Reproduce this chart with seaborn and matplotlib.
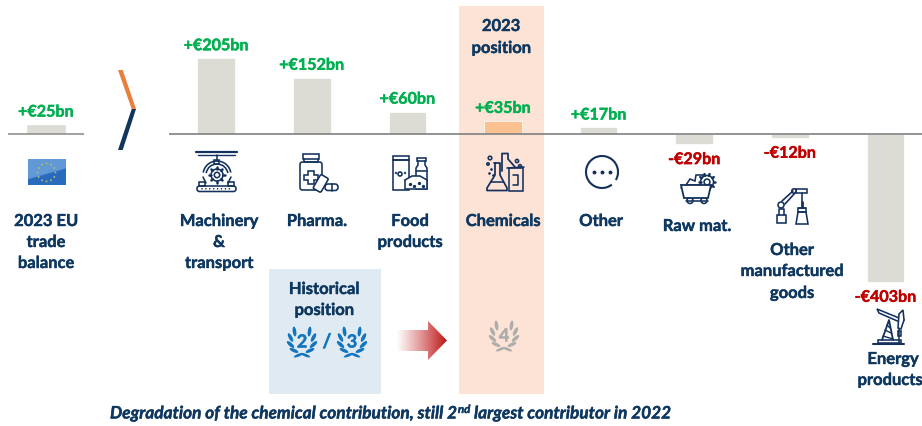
import numpy as np
import pandas as pd
import matplotlib
matplotlib.use("Agg")
import matplotlib.pyplot as plt
import matplotlib.patheffects as pe
import seaborn as sns
from matplotlib.patches import Polygon, Rectangle, Circle, Ellipse, FancyBboxPatch, Arc

# ---------- data ----------
categories = ["Machinery", "Pharma.", "Food", "Chemicals", "Other",
              "Raw mat.", "Other manufactured", "Energy"]
balance_bn = [205, 152, 60, 35, 17, -29, -12, -403]
eu_label = ["2023 EU trade balance"]
eu_balance_bn = [25]

# ---------- style ----------
W, H = 922, 427
NAVY = "#0F3860"
ICON = "#13315C"
GREEN = "#00B050"
RED = "#C00000"
GREY = "#DCDCD5"
FONT = "Lato"
FS = 11.9
HEAVY = lambda c: [pe.withStroke(linewidth=0.3, foreground=c)]

sns.set_theme(style="white")
plt.rcParams["font.family"] = [FONT, "DejaVu Sans"]
fig = plt.figure(figsize=(W / 100, H / 100), dpi=100, facecolor="white")


def px_axes(x0, x1, y0=0, y1=H, z=1):
    a = fig.add_axes([x0 / W, 1 - y1 / H, (x1 - x0) / W, (y1 - y0) / H], zorder=z)
    a.patch.set_alpha(0)
    return a


bg = px_axes(0, W, z=0)
bg.set_xlim(0, W)
bg.set_ylim(H, 0)
bg.axis("off")

# ---------- background bands ----------
bg.add_patch(Rectangle((459, 7), 85, 388, fc="#FDE3D6", ec="none"))
bg.add_patch(Rectangle((269, 270), 112, 125, fc="#DFEAF2", ec="none"))

# ---------- bars ----------
PX_PER_BN = 75.5 / 205
BASE = 134.6
ylim_top, ylim_bot = BASE / PX_PER_BN, -(H - BASE) / PX_PER_BN
STEP = 95.6
X0 = 216.2


def value_label(ax, x, v):
    txt = f"+€{v}bn" if v > 0 else f"-€{abs(v)}bn"
    off = 11.8 if v > 0 else -15.8
    col = GREEN if v > 0 else RED
    ax.annotate(txt, (x, v), xytext=(0, off * 0.72), textcoords="offset points",
                ha="center", va="center", fontsize=11.6, fontweight="bold",
                color=col, annotation_clip=False, path_effects=HEAVY(col))


ax = px_axes(169, W)
df = pd.DataFrame({"cat": categories, "val": balance_bn})
palette = {c: ("#FBC08F" if c == "Chemicals" else GREY) for c in categories}
sns.barplot(data=df, x="cat", y="val", hue="cat", palette=palette, legend=False,
            width=37.5 / STEP, ax=ax, saturation=1, edgecolor="white", linewidth=0.5)
ax.set_xlim(-(X0 - 169) / STEP, (W - X0) / STEP)
ax.set_ylim(ylim_bot, ylim_top)
ax.axhline(0, color="#808080", lw=1.2, zorder=5)
ax.axis("off")
for i, v in enumerate(balance_bn):
    value_label(ax, i, v)

ax0 = px_axes(8, 84)
df0 = pd.DataFrame({"cat": eu_label, "val": eu_balance_bn})
sns.barplot(data=df0, x="cat", y="val", color=GREY, width=40 / 76, ax=ax0, saturation=1)
ax0.set_xlim(-0.5, 0.5)
ax0.set_ylim(ylim_bot, ylim_top)
ax0.axhline(0, color="#909090", lw=1.2, zorder=5)
ax0.axis("off")
value_label(ax0, 0, eu_balance_bn[0])


# ---------- text ----------
def t(x, y, s, **kw):
    col = kw.pop("color", NAVY)
    kw.setdefault("fontsize", FS)
    kw.setdefault("fontweight", "bold")
    return bg.text(x, y + 2, s, color=col, ha=kw.pop("ha", "center"), va=kw.pop("va", "center"),
                   clip_on=False, path_effects=HEAVY(col), **kw)


label_layout = [
    (46, 220, "2023 EU"), (46, 241, "trade"), (46, 262, "balance"),
    (219, 220, "Machinery"), (219, 241, "&"), (219, 262, "transport"),
    (317, 220, "Pharma."), (410, 220, "Food"), (410, 241, "products"),
    (503, 220, "Chemicals"), (601, 220, "Other"), (697, 225, "Raw mat."),
    (792, 249, "Other"), (792, 270, "manufactured"), (792, 292, "goods"),
    (893, 358, "Energy"), (890, 379, "products"),
    (501, 25, "2023"), (501, 47, "position"),
    (324, 288, "Historical"), (324, 309, "position"),
]
for x, y, s in label_layout:
    t(x, y, s)

# footer with superscript
r = fig.canvas.get_renderer()
cur = 110
for s, size, yy in [("Degradation of the chemical contribution, still 2", 12.4, 412.5),
                    ("nd", 8.2, 408.5),
                    (" largest contributor in 2022", 12.4, 412.5)]:
    tx = t(cur, yy, s, ha="left", fontsize=size, fontstyle="italic")
    cur += tx.get_window_extent(r).width

# ---------- chevron ----------
bg.add_patch(Polygon([(118, 71), (122.7, 71), (136, 110), (131.7, 110)], fc="#E97F3C", ec="none"))
bg.add_patch(Polygon([(131.7, 110), (136, 110), (122.7, 151), (118, 151)], fc="#12355B", ec="none"))

# ---------- flag ----------
xx, yy_ = np.meshgrid(np.linspace(0, 1, 74), np.linspace(0, 1, 50))
swoosh = yy_ > 0.78 - 0.42 * xx
flag = np.zeros((50, 74, 3))
flag[~swoosh] = np.array([0.38, 0.60, 0.84])
flag[swoosh] = np.array([0.16, 0.42, 0.74])
bg.imshow(flag, extent=(28, 65, 186, 161), aspect="auto", zorder=1, interpolation="bilinear")
for a in np.linspace(0, 2 * np.pi, 12, endpoint=False):
    bg.add_patch(Circle((46.5 + 9 * np.cos(a), 173.5 + 9 * np.sin(a)), 0.9, fc="#B9BF72", ec="none", zorder=2))

# ---------- arrow ----------
arrow_pts = [(397, 331), (428, 331), (428, 322), (447, 341.5), (428, 361), (428, 352), (397, 352)]
g = np.zeros((2, 100, 4))
g[..., :3] = matplotlib.colors.to_rgb("#BE1616")
g[..., 3] = np.linspace(0.02, 1, 100) ** 1.1
aim = bg.imshow(g, extent=(397, 447, 361, 322), aspect="auto", zorder=2)
poly = Polygon(arrow_pts, transform=bg.transData, fc="none", ec="none")
bg.add_patch(poly)
aim.set_clip_path(poly)
bg.set_xlim(0, W)
bg.set_ylim(H, 0)


# ---------- laurels ----------
# (dx, dy, outward lean in degrees, width, length) for the left branch; the right branch mirrors it
LEAVES = [(-7.5, -10.5, 8, 3.6, 10), (-11.5, -4.5, 28, 3.6, 9.5),
          (-11.5, 2.5, 48, 3.6, 9.5), (-8, 8.5, 66, 3.4, 9.5)]
def laurel(cx, cy, n, col):
    for side in (-1, 1):
        for dx, dy, lean, w, h in LEAVES:
            # y axis is inverted: a negative patch angle leans the top of a leaf to the left
            bg.add_patch(Ellipse((cx - side * dx, cy + dy), w, h, angle=side * lean,
                                 fc=col, ec="none", zorder=3))
        bg.add_patch(Ellipse((cx + side * 3.5, cy + 13.2), 10, 2.8, angle=side * 22,
                             fc=col, ec="none", zorder=3))
    t(cx, cy - 2, n, color=col, fontsize=13, zorder=4)


laurel(302, 343, "2", "#1275BE")
t(327, 341, "/", color="#1275BE", fontsize=14)
laurel(352, 343, "3", "#1275BE")
laurel(504, 337, "4", "#ADADAD")


# ---------- icon primitives ----------
LW = 1.15
def L(xs, ys, lw=LW, c=ICON):
    bg.plot(xs, ys, color=c, lw=lw, solid_capstyle="round", solid_joinstyle="round", zorder=3)
def C(x, y, r_, fc="none", lw=LW):
    bg.add_patch(Circle((x, y), r_, fc=fc, ec=ICON, lw=lw, zorder=3))
def RB(x, y, w, h, r_=1.5, fc="none"):
    bg.add_patch(FancyBboxPatch((x + r_, y + r_), w - 2 * r_, h - 2 * r_,
                                boxstyle=f"round,pad={r_}", fc=fc, ec=ICON, lw=LW, zorder=3))
def R(x, y, w, h, fc="none"):
    bg.add_patch(Rectangle((x, y), w, h, fc=fc, ec=ICON, lw=LW, zorder=3))
def gear(x, y, r_, teeth=8):
    C(x, y, r_, fc="white")
    C(x, y, r_ * 0.45)
    for a in np.linspace(0, 2 * np.pi, teeth, endpoint=False):
        L([x + r_ * np.cos(a), x + (r_ + 1.8) * np.cos(a)],
          [y + r_ * np.sin(a), y + (r_ + 1.8) * np.sin(a)], lw=1.8)


# machinery
L([196, 237], [153, 153], lw=1.6)
L([198, 235], [156, 156], lw=1.0)
L([216.5, 216.5], [156, 162])
R(214, 161, 5, 4)
gear(217, 176, 6)
bg.add_patch(Arc((217, 176), 28, 28, theta1=190, theta2=350, color=ICON, lw=LW, zorder=3))
bg.add_patch(Arc((217, 176), 22, 22, theta1=190, theta2=350, color=ICON, lw=LW, zorder=3))
L([203, 206], [178, 184])
L([231, 228], [178, 184])
RB(197, 187, 39, 5.5, r_=2.5)
for x in np.arange(202, 233, 3.9):
    C(x, 189.8, 0.4, fc=ICON, lw=0.5)
R(199, 183, 6, 4)
R(228, 183, 6, 4)

# pharma
R(303, 155, 16, 4.5)
RB(300, 163, 22, 28, r_=2.5)
L([304, 304, 318, 318], [160, 163, 163, 160])
bg.add_patch(Polygon([(308, 172), (314, 172), (314, 176), (318, 176), (318, 181), (314, 181),
                      (314, 185), (308, 185), (308, 181), (304, 181), (304, 176), (308, 176)],
                     fc="white", ec=ICON, lw=LW, zorder=3))
bg.add_patch(FancyBboxPatch((318, 178), 6, 13, boxstyle="round,pad=1.5", fc="white", ec=ICON, lw=LW, zorder=4,
                            transform=matplotlib.transforms.Affine2D().rotate_deg_around(321, 184, 30) + bg.transData))
RB(325, 185, 13, 6.5, r_=3, fc="white")
L([331.5, 331.5], [185, 191.5])

# food
R(392.5, 156.5, 16, 4)
R(392.5, 161, 16, 29.5)
C(400, 175, 2)
C(396, 174, 0.4, fc=ICON)
C(405, 174, 0.4, fc=ICON)
R(417, 159, 9, 3)
L([418, 418, 416, 416, 427, 427, 425, 425], [162, 166, 169, 190, 190, 169, 166, 162])
L([416, 427], [172, 172])
bg.add_patch(Polygon([(405, 190), (405, 181), (412, 177), (420, 177), (427, 181), (427, 190)],
                     fc="white", ec=ICON, lw=LW, zorder=4))
L([405, 427], [181, 181])
bg.plot([410, 414, 419, 423], [185, 187, 184, 187], "o", ms=1.4, color=ICON, zorder=5)

# chemicals
L([495, 495, 487, 487, 507, 507, 500, 500, 494], [164, 176, 189, 191.5, 191.5, 189, 176, 164, 164], lw=1.25)
L([491, 503], [183, 183])
L([502, 502, 508, 508, 515], [172, 154.5, 154.5, 160, 168], lw=1.25)
R(508.5, 169, 14.5, 22.5)
L([507, 524], [169, 168])
L([513, 518, 518, 513], [176, 176, 186, 186])
C(490, 159, 1.8)
C(488, 165, 1.2)
C(517, 162, 1.6)
C(520, 167, 1.4)
bg.plot([491, 489, 493], [170, 174, 176], "o", ms=0.9, color=ICON, zorder=3)

# other
bg.add_patch(Arc((602, 173), 32, 32, theta1=52, theta2=390, color=ICON, lw=1.5, zorder=3))
bg.plot([594, 602, 610], [173, 173, 173], "o", ms=1.8, color=ICON, zorder=3)

# raw materials
gear(707, 183, 6.5, teeth=10)
bg.add_patch(Polygon([(681, 186), (684, 199), (708, 199), (711, 186)], fc="white", ec=ICON, lw=1.3, zorder=3.2))
L([681, 711], [189, 189])
bg.add_patch(Polygon([(686, 186), (690, 180), (695, 182), (696, 176), (703, 176), (703, 186)],
                     fc="white", ec=ICON, lw=LW, zorder=2.5))
C(690, 201.5, 3, fc="white")
C(704, 201.5, 3, fc="white")
L([686, 708], [201.5, 201.5])

# robot arm
R(777, 216, 9, 8)
L([779, 779, 784, 784], [216, 210, 210, 216])
C(781, 206, 3)
L([782, 793], [202, 192], lw=1.2)
L([785, 795], [205, 194], lw=1.2)
C(794, 192, 2.2)
R(796, 190, 11, 4)
L([802, 802], [194, 203])
L([802, 802], [203, 208], lw=2)
L([799, 805], [209, 209])
R(798, 209, 8, 4)
bg.add_patch(Polygon([(796, 225), (798, 213), (806, 213), (808, 225)], fc="none", ec=ICON, lw=LW, zorder=3))

# pumpjack
L([873, 904], [345, 345], lw=1.5)
R(878, 341, 23, 3)
L([882, 889, 893], [341, 321, 341], lw=1.3)
for yy, xa, xb in [(337, 883, 893), (331, 885, 891), (326, 887, 890)]:
    L([xa, xb], [yy, yy + 3], lw=1.0)
bg.add_patch(Polygon([(877, 310), (879, 314), (902, 324), (904, 321)], fc="white", ec=ICON, lw=LW, zorder=3))
bg.add_patch(Polygon([(899, 315), (903, 311), (904, 321), (901, 330), (898, 329)], fc="white", ec=ICON, lw=LW, zorder=4))
L([899, 899], [329, 344])
R(898, 332, 2.5, 5)

fig.savefig("out.png", dpi=100, facecolor="white")
